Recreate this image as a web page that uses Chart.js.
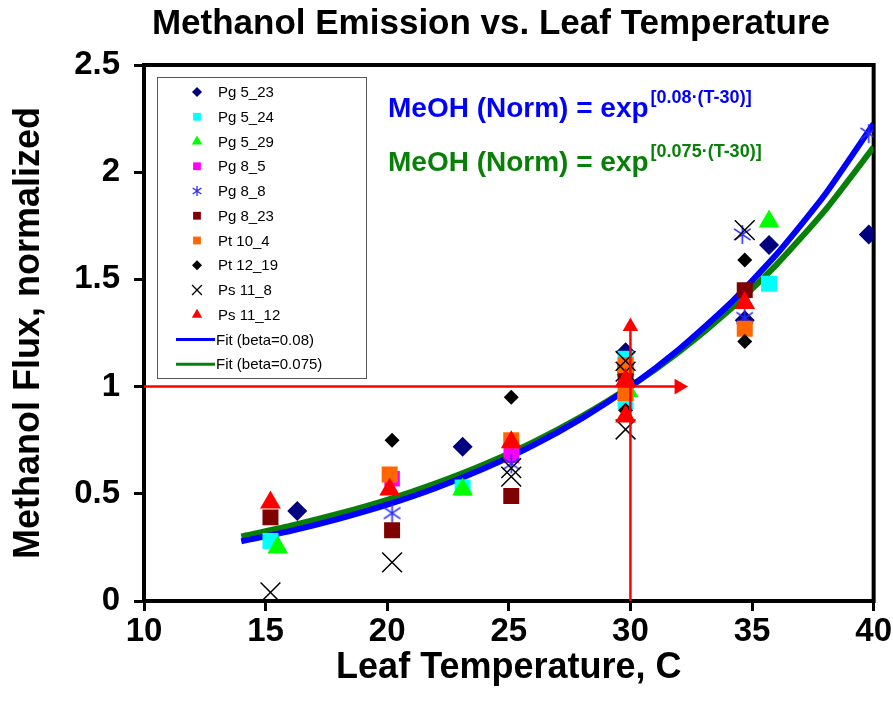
<!DOCTYPE html>
<html>
<head>
<meta charset="utf-8">
<script src="https://cdn.jsdelivr.net/npm/chart.js@4/dist/chart.umd.min.js"></script>
<style>
  html, body { margin: 0; padding: 0; background: #fff; }
  #wrap { width: 893px; height: 717px; }
</style>
</head>
<body>
<div id="wrap"><canvas id="methanolChart" width="893" height="717"></canvas></div>
<script>
// data
const seriesNames = ['Pg 5_23', 'Pg 5_24', 'Pg 5_29', 'Pg 8_5', 'Pg 8_8', 'Pg 8_23', 'Pt 10_4', 'Pt 12_19', 'Ps 11_8', 'Ps 11_12'];
const pg523T = [16.3, 23.1, 29.8, 34.7, 35.7, 39.8];
const pg523Flux = [0.42, 0.72, 1.16, 1.31, 1.66, 1.71];
const pg524T = [15.2, 23.1, 29.8, 29.8, 35.7];
const pg524Flux = [0.28, 0.53, 1.13, 0.93, 1.48];
const pg529T = [15.5, 23.1, 29.9, 35.7];
const pg529Flux = [0.25, 0.52, 0.98, 1.77];
const pg85T = [20.2, 25.1, 29.8];
const pg85Flux = [0.57, 0.68, 1.05];
const pg88T = [20.2, 25.1, 29.8, 34.6, 34.7, 39.8];
const pg88Flux = [0.41, 0.64, 1.08, 1.71, 1.32, 2.18];
const pg823T = [15.2, 20.2, 25.1, 29.8, 34.7];
const pg823Flux = [0.39, 0.33, 0.49, 1.08, 1.45];
const pt104T = [20.1, 25.1, 29.8, 29.8, 34.7];
const pt104Flux = [0.59, 0.75, 1.10, 0.97, 1.27];
const pt1219T = [20.2, 25.1, 29.8, 34.7, 34.7];
const pt1219Flux = [0.75, 0.95, 0.89, 1.59, 1.21];
const ps118T = [15.2, 20.2, 25.1, 25.1, 29.8, 29.8, 29.8, 34.7];
const ps118Flux = [0.04, 0.18, 0.62, 0.58, 1.12, 1.07, 0.80, 1.73];
const ps1112T = [15.2, 20.1, 25.1, 29.8, 29.8, 34.7];
const ps1112Flux = [0.46, 0.52, 0.74, 1.03, 0.86, 1.39];

const fitT = [14, 16, 18, 20, 22, 24, 26, 28, 30, 32, 34, 36, 38, 40];
const fit008 = [0.278, 0.326, 0.383, 0.449, 0.527, 0.619, 0.726, 0.852, 1.0, 1.174, 1.377, 1.616, 1.896, 2.226];
const fit0075 = [0.301, 0.350, 0.407, 0.472, 0.549, 0.638, 0.741, 0.861, 1.0, 1.162, 1.350, 1.568, 1.822, 2.117];
const fitNames = ['Fit (beta=0.08)', 'Fit (beta=0.075)'];

const refArrowH = { x: [10, 32.0], y: [1, 1] };
const refArrowV = { x: [30, 30], y: [0, 1.28] };

const xTicks = [10, 15, 20, 25, 30, 35, 40];
const yTicks = [0, 0.5, 1, 1.5, 2, 2.5];
const yTickLabels = ['0', '0.5', '1', '1.5', '2', '2.5'];

const FONT = '"Liberation Sans", Arial, sans-serif';

function asteriskImage(size, color, lw) {
  const c = document.createElement('canvas');
  c.width = size; c.height = size;
  const g = c.getContext('2d');
  g.strokeStyle = color; g.lineWidth = lw;
  const m = size / 2, r = size / 2 - 1;
  g.beginPath();
  g.moveTo(m, m - r); g.lineTo(m, m + r);
  g.moveTo(m - r * 0.87, m - r * 0.6); g.lineTo(m + r * 0.87, m + r * 0.6);
  g.moveTo(m - r * 0.87, m + r * 0.6); g.lineTo(m + r * 0.87, m - r * 0.6);
  g.stroke();
  return c;
}
const starBig = asteriskImage(21, '#2b2bff', 1.6);
const starSmall = asteriskImage(12, '#2b2bff', 1.3);

function pts(xs, ys) { return xs.map((x, i) => ({ x: x, y: ys[i] })); }

const markerStyles = [
  { style: 'rectRot', color: '#000080', r: 10, lr: 5 },
  { style: 'rect', color: '#00ffff', r: 11.3, lr: 5.5 },
  { style: 'triangle', color: '#00ff00', r: 12, lr: 6 },
  { style: 'rect', color: '#ff00ff', r: 11, lr: 5.5 },
  { style: starBig, color: '#2b2bff', r: 10, lr: 5, legendImg: starSmall },
  { style: 'rect', color: '#800000', r: 11.3, lr: 5.5 },
  { style: 'rect', color: '#ff6600', r: 11.3, lr: 5.5 },
  { style: 'rectRot', color: '#000000', r: 7.5, lr: 5 },
  { style: 'crossRot', color: '#000000', r: 14, lr: 7 },
  { style: 'triangle', color: '#ff0000', r: 12, lr: 6 }
];
const seriesT = [pg523T, pg524T, pg529T, pg85T, pg88T, pg823T, pt104T, pt1219T, ps118T, ps1112T];
const seriesFlux = [pg523Flux, pg524Flux, pg529Flux, pg85Flux, pg88Flux, pg823Flux, pt104Flux, pt1219Flux, ps118Flux, ps1112Flux];

const datasets = seriesNames.map((name, i) => {
  const m = markerStyles[i];
  const isCross = m.style === 'crossRot';
  return {
    type: 'scatter',
    label: name,
    data: pts(seriesT[i], seriesFlux[i]),
    pointStyle: m.style,
    pointRadius: m.r,
    pointBackgroundColor: m.color,
    pointBorderColor: m.color,
    pointBorderWidth: isCross ? 1.5 : 0,
    showLine: false,
    order: 10 - i
  };
});

datasets.push({
  type: 'line', label: fitNames[0], data: pts(fitT, fit008),
  borderColor: '#0000ff', borderWidth: 6, pointRadius: 0, tension: 0.2, fill: false, order: 20
});
datasets.push({
  type: 'line', label: fitNames[1], data: pts(fitT, fit0075),
  borderColor: '#088008', borderWidth: 6, pointRadius: 0, tension: 0.2, fill: false, order: 21
});
datasets.push({
  type: 'line', label: 'ref-h', data: pts(refArrowH.x, refArrowH.y),
  borderColor: '#ff0000', borderWidth: 2.5, pointStyle: 'triangle',
  pointRadius: [0, 9], pointRotation: 90, pointBackgroundColor: '#ff0000', pointBorderWidth: 0,
  fill: false, order: -10
});
datasets.push({
  type: 'line', label: 'ref-v', data: pts(refArrowV.x, refArrowV.y),
  borderColor: '#ff0000', borderWidth: 2.5, pointStyle: 'triangle',
  pointRadius: [0, 9], pointRotation: 0, pointBackgroundColor: '#ff0000', pointBorderWidth: 0,
  fill: false, order: -10
});

const decorPlugin = {
  id: 'decor',
  beforeDatasetsDraw(chart) {
    const { ctx, chartArea: a } = chart;
    ctx.save();
    ctx.strokeStyle = '#000';
    ctx.lineWidth = 4;
    ctx.strokeRect(a.left, a.top, a.right - a.left, a.bottom - a.top);
    ctx.restore();
  },
  afterDatasetsDraw(chart) {
    const { ctx, chartArea: a } = chart;
    ctx.save();
    // legend box
    const bx = a.left + 13, by = a.top + 12, bw = 209, bh = 301;
    ctx.fillStyle = '#fff';
    ctx.fillRect(bx, by, bw, bh);
    ctx.strokeStyle = '#555';
    ctx.lineWidth = 1;
    ctx.strokeRect(bx + 0.5, by + 0.5, bw, bh);
    ctx.font = '15px ' + FONT;
    ctx.textBaseline = 'middle';
    ctx.textAlign = 'left';
    const names = seriesNames.concat(fitNames);
    names.forEach((name, i) => {
      const y = by + 15 + i * 24.75;
      const mx = bx + 40;
      if (i < seriesNames.length) {
        const m = markerStyles[i];
        ctx.fillStyle = m.color;
        ctx.strokeStyle = m.color;
        ctx.lineWidth = 1.3;
        if (m.legendImg) {
          ctx.drawImage(m.legendImg, mx - 6, y - 6);
        } else {
          Chart.helpers.drawPoint(ctx, {
            pointStyle: m.style, radius: m.lr, rotation: 0,
            borderWidth: m.style === 'crossRot' ? 1.3 : 0
          }, mx, y);
        }
        ctx.fillStyle = '#000';
        ctx.fillText(name, bx + 61, y + 1);
      } else {
        ctx.strokeStyle = i === seriesNames.length ? '#0000ff' : '#088008';
        ctx.lineWidth = 3;
        ctx.beginPath();
        ctx.moveTo(bx + 19, y); ctx.lineTo(bx + 58, y);
        ctx.stroke();
        ctx.fillStyle = '#000';
        ctx.fillText(name, bx + 59, y + 1);
      }
    });
    // fit equations
    const eqs = [
      { color: '#0000ff', sup: '[0.08\u00b7(T-30)]', y: 117 },
      { color: '#088008', sup: '[0.075\u00b7(T-30)]', y: 171 }
    ];
    ctx.textBaseline = 'alphabetic';
    eqs.forEach(e => {
      ctx.fillStyle = e.color;
      ctx.font = 'bold 28px ' + FONT;
      const main = 'MeOH (Norm) = exp';
      ctx.fillText(main, 388, e.y);
      const w = ctx.measureText(main).width;
      ctx.font = 'bold 18px ' + FONT;
      ctx.fillText(e.sup, 388 + w + 2, e.y - 14);
    });
    ctx.restore();
  },
  afterDraw(chart) {
    const { ctx } = chart;
    ctx.save();
    ctx.fillStyle = '#000';
    ctx.font = 'bold 35px ' + FONT;
    ctx.textAlign = 'center';
    ctx.textBaseline = 'middle';
    ctx.fillText('Methanol Emission vs. Leaf Temperature', 491, 24);
    ctx.restore();
  }
};

new Chart(document.getElementById('methanolChart').getContext('2d'), {
  data: { datasets: datasets },
  options: {
    responsive: false,
    animation: false,
    layout: { padding: { top: 65, right: 16, left: 0, bottom: 0 } },
    plugins: {
      legend: { display: false },
      tooltip: { enabled: false },
      title: { display: false }
    },
    scales: {
      x: {
        type: 'linear', min: 10, max: 40,
        afterFit(s) { s.height = 116; },
        afterBuildTicks(s) { s.ticks = xTicks.map(v => ({ value: v })); },
        ticks: { color: '#000', font: { family: FONT, size: 33, weight: 'bold' }, padding: 1 },
        grid: { drawOnChartArea: false, color: '#000', lineWidth: 3, tickLength: 10 },
        border: { color: '#000', width: 4 },
        title: { display: true, text: 'Leaf Temperature, C', color: '#000', font: { family: FONT, size: 36, weight: 'bold' }, padding: { bottom: 27 } }
      },
      y: {
        type: 'linear', min: 0, max: 2.5,
        afterFit(s) { s.width = 144; },
        afterBuildTicks(s) { s.ticks = yTicks.map(v => ({ value: v })); },
        ticks: {
          color: '#000', font: { family: FONT, size: 33, weight: 'bold' }, padding: 14,
          callback: (v) => yTickLabels[yTicks.indexOf(v)]
        },
        grid: { drawOnChartArea: false, color: '#000', lineWidth: 3, tickLength: 10 },
        border: { color: '#000', width: 4 },
        title: { display: true, text: 'Methanol Flux, normalized', color: '#000', font: { family: FONT, size: 36, weight: 'bold' }, padding: { top: 7 } }
      }
    }
  },
  plugins: [decorPlugin]
});
</script>
</body>
</html>
